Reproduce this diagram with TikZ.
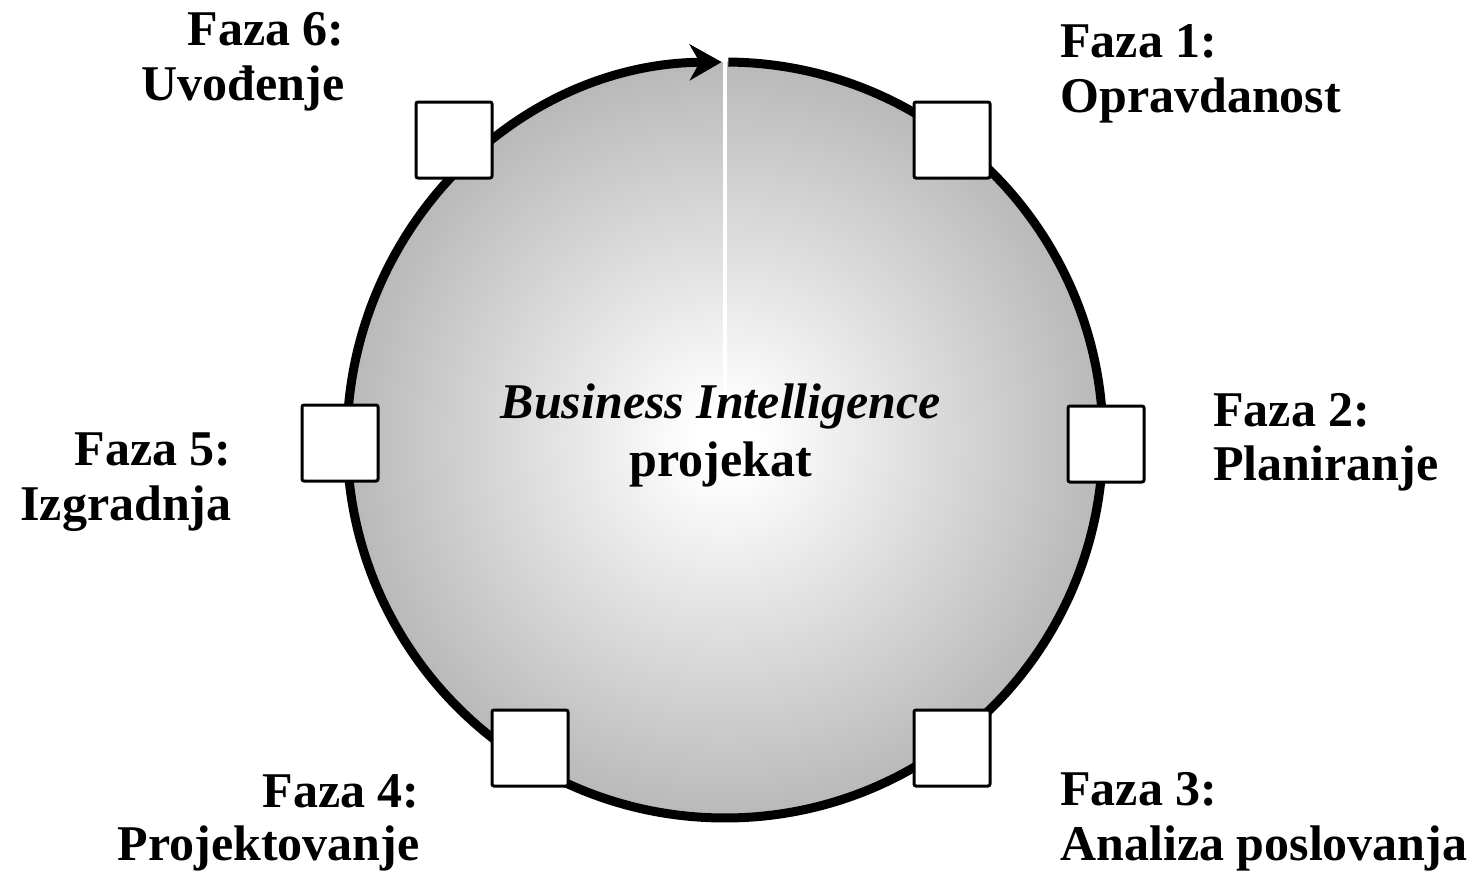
\documentclass[tikz,border=0pt]{standalone}
\usepackage{fontspec}
\setmainfont{Liberation Serif}
\usetikzlibrary{arrows.meta,calc}
\pgfdeclareradialshading{bishade}{\pgfpoint{0bp}{0bp}}{color(0bp)=(white); color(2bp)=(white); color(35.4bp)=(black!40); color(50bp)=(black!40)}
\begin{document}
\begin{tikzpicture}[x=0.5pt,y=-0.5pt,
  phase/.style={draw=black, fill=white, line width=1.5pt, rounded corners=1pt, minimum size=38pt, inner sep=0pt},
  lbl/.style={inner sep=0pt, font=\fontsize{25}{27.5}\selectfont\bfseries},
  ring/.style={line width=4.5pt, -{Stealth[length=16pt,width=18pt,inset=5pt]}}]
\useasboundingbox (0,0) rectangle (1479,873);
\coordinate (c) at (725,440);
\fill[shading=bishade] (c) circle [radius=378];
\draw[ring] ($(c)+(-89.5:378)$) arc[start angle=-89.5, end angle=269.5, radius=378];
\coordinate (wtop) at (725,52);
\coordinate (wbot) at (725,395);
\draw[white, line width=2pt] (wtop) -- (wbot);
% phase squares
\node[phase] (s1) at (952,140) {};
\node[phase] (s2) at (1106,444) {};
\node[phase] (s3) at (952,748) {};
\node[phase] (s4) at (530,748) {};
\node[phase] (s5) at (340,443) {};
\node[phase] (s6) at (454,140) {};
% labels
\node[lbl, anchor=base west] (f1a) at (1060,57) {Faza 1:};
\node[lbl, anchor=base west] (f1b) at (1060,112) {Opravdanost};
\node[lbl, anchor=base west] (f2a) at (1213,426) {Faza 2:};
\node[lbl, anchor=base west] (f2b) at (1213,480) {Planiranje};
\node[lbl, anchor=base west] (f3a) at (1060,805) {Faza 3:};
\node[lbl, anchor=base west] (f3b) at (1060,860) {Analiza poslovanja};
\node[lbl, anchor=base east] (f4a) at (420,807) {Faza 4:};
\node[lbl, anchor=base east] (f4b) at (420,860) {Projektovanje};
\node[lbl, anchor=base east] (f5a) at (232,465) {Faza 5:};
\node[lbl, anchor=base east] (f5b) at (232,520) {Izgradnja};
\node[lbl, anchor=base east] (f6a) at (345,45) {Faza 6:};
\node[lbl, anchor=base east] (f6b) at (345,100) {Uvođenje};
% centre
\node[lbl, anchor=base] (t1) at (721,418) {\itshape Business Intelligence};
\node[lbl, anchor=base] (t2) at (721,476) {projekat};
\end{tikzpicture}
\end{document}
